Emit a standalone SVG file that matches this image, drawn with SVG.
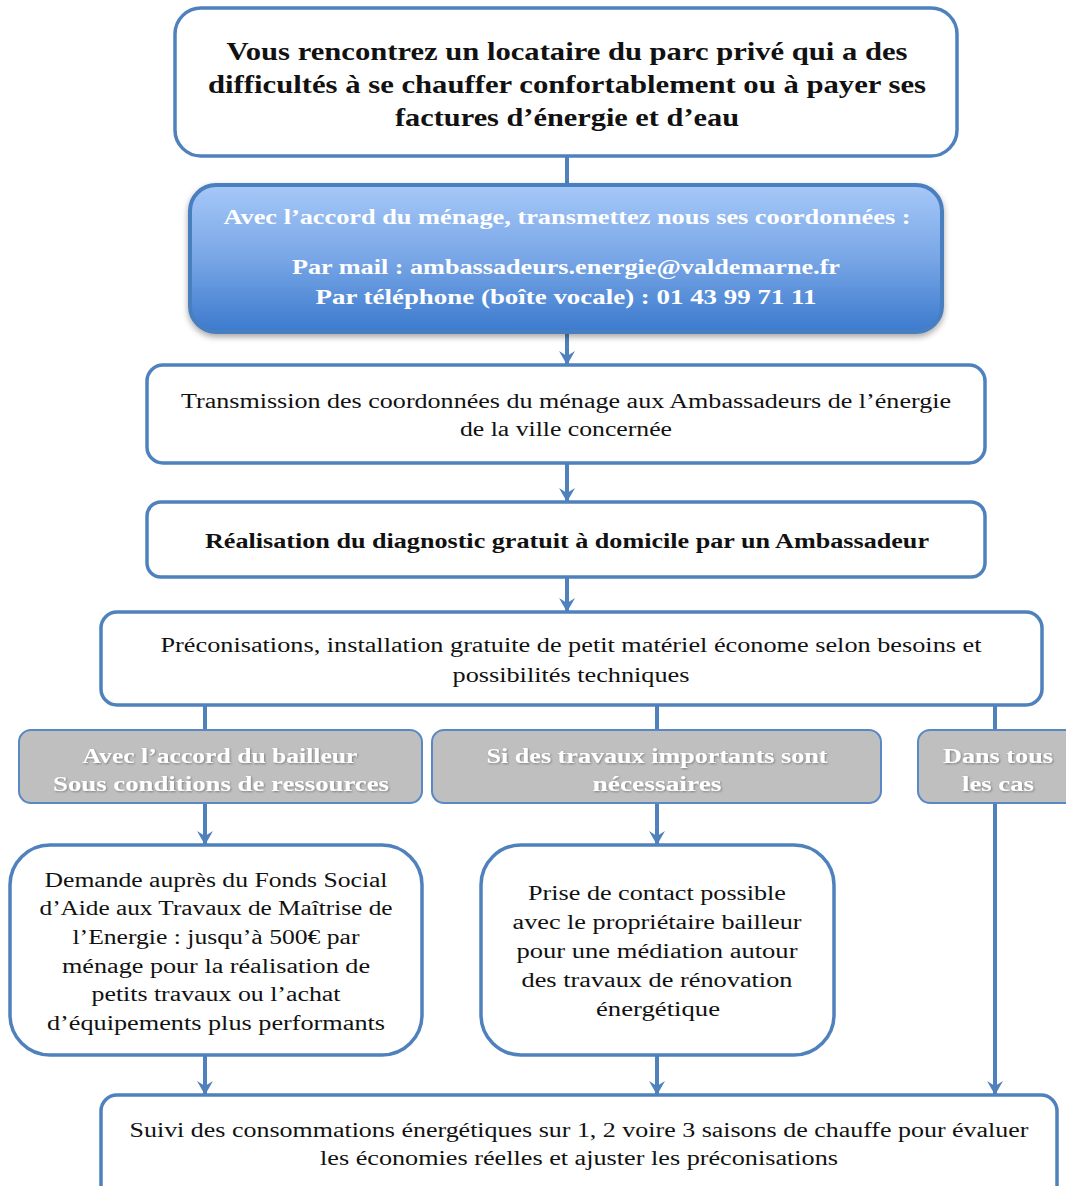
<svg xmlns="http://www.w3.org/2000/svg" width="1066" height="1186" viewBox="0 0 1066 1186">
<defs>
<linearGradient id="blueGrad" x1="0" y1="0" x2="0" y2="1">
<stop offset="0" stop-color="#a6c8f8"/>
<stop offset="0.5" stop-color="#78a6e6"/>
<stop offset="1" stop-color="#3c7acd"/>
</linearGradient>
<filter id="shadow" x="-5%" y="-10%" width="110%" height="130%">
<feDropShadow dx="0" dy="3" stdDeviation="3" flood-color="#000" flood-opacity="0.35"/>
</filter>
<filter id="tshadow" x="-5%" y="-20%" width="110%" height="150%">
<feDropShadow dx="1" dy="1" stdDeviation="0.8" flood-color="#000" flood-opacity="0.35"/>
</filter>
<marker id="arrow" markerWidth="16" markerHeight="16" refX="14" refY="8" orient="auto" markerUnits="userSpaceOnUse" viewBox="0 0 16 16">
<path d="M0,0 L14,8 L0,16 L5,8 Z" fill="#4f81bd"/>
</marker>
</defs>
<style>
.box{fill:#fff;stroke:#4f81bd;stroke-width:3.5}
.gray{fill:#bfbfbf;stroke:#5a88c4;stroke-width:2}
.conn{stroke:#4f81bd;stroke-width:4;fill:none}
text{font-family:"Liberation Serif","DejaVu Serif",serif;text-anchor:middle;fill:#111}
.b{font-weight:bold}
.w{fill:#fff;font-weight:bold}
</style>
<rect width="1066" height="1186" fill="#fff"/>
<g id="connectors">
<line class="conn" x1="567" y1="156" x2="567" y2="186"/>
<line class="conn" x1="567" y1="332" x2="567" y2="365" marker-end="url(#arrow)"/>
<line class="conn" x1="567" y1="463" x2="567" y2="502" marker-end="url(#arrow)"/>
<line class="conn" x1="567" y1="577" x2="567" y2="612" marker-end="url(#arrow)"/>
<line class="conn" x1="205" y1="705" x2="205" y2="731"/>
<line class="conn" x1="657" y1="705" x2="657" y2="731"/>
<line class="conn" x1="995" y1="705" x2="995" y2="731"/>
<line class="conn" x1="205" y1="803" x2="205" y2="845" marker-end="url(#arrow)"/>
<line class="conn" x1="657" y1="803" x2="657" y2="845" marker-end="url(#arrow)"/>
<line class="conn" x1="995" y1="803" x2="995" y2="1095" marker-end="url(#arrow)"/>
<line class="conn" x1="205" y1="1055" x2="205" y2="1095" marker-end="url(#arrow)"/>
<line class="conn" x1="657" y1="1055" x2="657" y2="1095" marker-end="url(#arrow)"/>
</g>
<g id="node-start">
<rect class="box" x="175" y="8" width="782" height="148" rx="26"/>
<text class="b" font-size="25" x="567" y="60" textLength="681" lengthAdjust="spacingAndGlyphs">Vous rencontrez un locataire du parc privé qui a des</text>
<text class="b" font-size="25" x="567" y="93" textLength="718" lengthAdjust="spacingAndGlyphs">difficultés à se chauffer confortablement ou à payer ses</text>
<text class="b" font-size="25" x="567" y="126" textLength="344" lengthAdjust="spacingAndGlyphs">factures d’énergie et d’eau</text>
</g>
<g id="node-contact">
<rect x="190" y="185" width="752" height="147" rx="26" fill="url(#blueGrad)" stroke="#4a7ebf" stroke-width="4" filter="url(#shadow)"/>
<text class="w" font-size="21" x="567" y="224" textLength="687" lengthAdjust="spacingAndGlyphs">Avec l’accord du ménage, transmettez nous ses coordonnées :</text>
<text class="w" font-size="21" x="566" y="274" textLength="548" lengthAdjust="spacingAndGlyphs">Par mail : ambassadeurs.energie@valdemarne.fr</text>
<text class="w" font-size="21" x="566" y="304" textLength="501" lengthAdjust="spacingAndGlyphs">Par téléphone (boîte vocale) : 01 43 99 71 11</text>
</g>
<g id="node-transmission">
<rect class="box" x="147" y="365" width="838" height="98" rx="16"/>
<text font-size="20" x="566" y="408" textLength="770" lengthAdjust="spacingAndGlyphs">Transmission des coordonnées du ménage aux Ambassadeurs de l’énergie</text>
<text font-size="20" x="566" y="436" textLength="212" lengthAdjust="spacingAndGlyphs">de la ville concernée</text>
</g>
<g id="node-diagnostic">
<rect class="box" x="147" y="502" width="838" height="75" rx="14"/>
<text class="b" font-size="20" x="567" y="548" textLength="724" lengthAdjust="spacingAndGlyphs">Réalisation du diagnostic gratuit à domicile par un Ambassadeur</text>
</g>
<g id="node-preconisations">
<rect class="box" x="101" y="612" width="941" height="93" rx="16"/>
<text font-size="20" x="571" y="652" textLength="821" lengthAdjust="spacingAndGlyphs">Préconisations, installation gratuite de petit matériel économe selon besoins et</text>
<text font-size="20" x="571" y="682" textLength="237" lengthAdjust="spacingAndGlyphs">possibilités techniques</text>
</g>
<g id="node-bailleur">
<rect class="gray" x="19" y="730" width="403" height="73" rx="12"/>
<text class="w" font-size="20" x="220" y="763" textLength="275" lengthAdjust="spacingAndGlyphs" filter="url(#tshadow)">Avec l’accord du bailleur</text>
<text class="w" font-size="20" x="221" y="791" textLength="336" lengthAdjust="spacingAndGlyphs" filter="url(#tshadow)">Sous conditions de ressources</text>
</g>
<g id="node-travaux">
<rect class="gray" x="432" y="730" width="449" height="73" rx="12"/>
<text class="w" font-size="20" x="657" y="763" textLength="341" lengthAdjust="spacingAndGlyphs" filter="url(#tshadow)">Si des travaux importants sont</text>
<text class="w" font-size="20" x="657" y="791" textLength="129" lengthAdjust="spacingAndGlyphs" filter="url(#tshadow)">nécessaires</text>
</g>
<g id="node-touscas">
<rect class="gray" x="918" y="730" width="160" height="73" rx="12"/>
<text class="w" font-size="20" x="998" y="763" textLength="110" lengthAdjust="spacingAndGlyphs" filter="url(#tshadow)">Dans tous</text>
<text class="w" font-size="20" x="998" y="791" textLength="72" lengthAdjust="spacingAndGlyphs" filter="url(#tshadow)">les cas</text>
</g>
<g id="node-fonds">
<rect class="box" x="10" y="845" width="412" height="210" rx="40"/>
<text font-size="20" x="216" y="887" textLength="343" lengthAdjust="spacingAndGlyphs">Demande auprès du Fonds Social</text>
<text font-size="20" x="216" y="915" textLength="353" lengthAdjust="spacingAndGlyphs">d’Aide aux Travaux de Maîtrise de</text>
<text font-size="20" x="216" y="944" textLength="287" lengthAdjust="spacingAndGlyphs">l’Energie : jusqu’à 500€ par</text>
<text font-size="20" x="216" y="973" textLength="308" lengthAdjust="spacingAndGlyphs">ménage pour la réalisation de</text>
<text font-size="20" x="216" y="1001" textLength="249" lengthAdjust="spacingAndGlyphs">petits travaux ou l’achat</text>
<text font-size="20" x="216" y="1030" textLength="338" lengthAdjust="spacingAndGlyphs">d’équipements plus performants</text>
</g>
<g id="node-mediation">
<rect class="box" x="481" y="845" width="353" height="210" rx="40"/>
<text font-size="20" x="657" y="900" textLength="258" lengthAdjust="spacingAndGlyphs">Prise de contact possible</text>
<text font-size="20" x="657" y="929" textLength="289" lengthAdjust="spacingAndGlyphs">avec le propriétaire bailleur</text>
<text font-size="20" x="657" y="958" textLength="281" lengthAdjust="spacingAndGlyphs">pour une médiation autour</text>
<text font-size="20" x="657" y="987" textLength="271" lengthAdjust="spacingAndGlyphs">des travaux de rénovation</text>
<text font-size="20" x="658" y="1016" textLength="124" lengthAdjust="spacingAndGlyphs">énergétique</text>
</g>
<g id="node-suivi">
<rect class="box" x="101" y="1095" width="956" height="110" rx="16"/>
<text font-size="20" x="579" y="1137" textLength="899" lengthAdjust="spacingAndGlyphs">Suivi des consommations énergétiques sur 1, 2 voire 3 saisons de chauffe pour évaluer</text>
<text font-size="20" x="579" y="1165" textLength="518" lengthAdjust="spacingAndGlyphs">les économies réelles et ajuster les préconisations</text>
</g>
</svg>
